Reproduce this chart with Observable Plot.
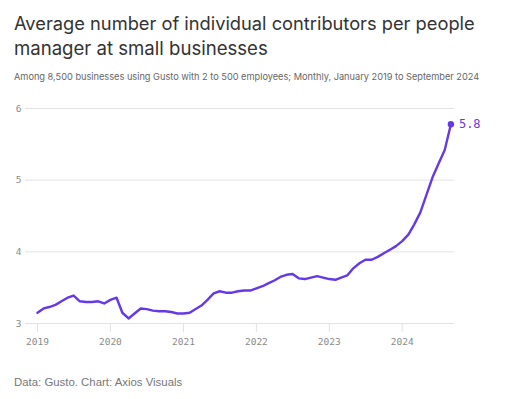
<!DOCTYPE html>
<html><head><meta charset="utf-8">
<script src="https://cdn.jsdelivr.net/npm/d3@7"></script>
<script src="https://cdn.jsdelivr.net/npm/@observablehq/plot@0.6"></script>
<style>
body{margin:0;background:#fff;width:514px;height:399px;position:relative;overflow:hidden}
.t{position:absolute;left:14px;white-space:nowrap;margin:0}
#chart{position:absolute;left:0;top:95px}
</style></head>
<body>
<div class="t" id="title1">Average number of individual contributors per people</div>
<div class="t" id="title2">manager at small businesses</div>
<div class="t" id="subtitle">Among 8,500 businesses using Gusto with 2 to 500 employees; Monthly, January 2019 to September 2024</div>
<div id="chart"></div>
<div class="t" id="caption">Data: Gusto. Chart: Axios Visuals</div>
<script>
// Monthly values, January to December (2024: January to September)
const years = [2019, 2020, 2021, 2022, 2023, 2024];
const ratio2019 = [3.15, 3.21, 3.23, 3.26, 3.31, 3.36, 3.39, 3.31, 3.30, 3.30, 3.31, 3.28];
const ratio2020 = [3.33, 3.36, 3.15, 3.07, 3.14, 3.21, 3.20, 3.18, 3.17, 3.17, 3.16, 3.14];
const ratio2021 = [3.14, 3.15, 3.20, 3.25, 3.33, 3.42, 3.45, 3.43, 3.43, 3.45, 3.46, 3.46];
const ratio2022 = [3.49, 3.52, 3.56, 3.60, 3.65, 3.68, 3.69, 3.63, 3.62, 3.64, 3.66, 3.64];
const ratio2023 = [3.62, 3.61, 3.64, 3.67, 3.77, 3.84, 3.89, 3.89, 3.93, 3.98, 4.03, 4.08];
const ratio2024 = [4.15, 4.24, 4.38, 4.55, 4.79, 5.04, 5.23, 5.42, 5.78];
const yTicks = [3, 4, 5, 6];
const lastLabel = "5.8";

const series = [ratio2019, ratio2020, ratio2021, ratio2022, ratio2023, ratio2024];
const data = [];
years.forEach((yr, i) => series[i].forEach((v, m) => data.push({date: new Date(Date.UTC(yr, m, 1)), value: v})));
const last = data[data.length - 1];

const purple = "#6538e8";

const chart = Plot.plot({
  width: 514,
  height: 263,
  marginTop: 13,
  marginRight: 60,
  marginBottom: 35,
  marginLeft: 25,
  style: {fontFamily: "DejaVu Sans Mono", fontSize: "9.5px", color: "#8a8a8a", background: "#fff"},
  x: {type: "utc", domain: [new Date(Date.UTC(2018, 10, 2)), new Date(Date.UTC(2024, 8, 19))]},
  y: {domain: [3, 6]},
  marks: [
    Plot.gridY(yTicks, {stroke: "#e2e2e2", strokeOpacity: 1, strokeWidth: 1}),
    Plot.axisY(yTicks, {tickSize: 0, tickPadding: 4, label: null, fill: "#8a8a8a", tickFormat: d => String(d)}),
    Plot.axisX({ticks: d3.utcYear.every(1), tickFormat: d3.utcFormat("%Y"), tickSize: 9, stroke: "#e2e2e2", tickPadding: 6, label: null, fill: "#8a8a8a"}),
    Plot.lineY(data, {x: "date", y: "value", stroke: purple, strokeWidth: 2.4, curve: "linear", strokeLinejoin: "round", strokeLinecap: "round"}),
    Plot.dot([last], {x: "date", y: "value", r: 3.2, fill: purple}),
    Plot.text([last], {x: "date", y: "value", text: () => lastLabel, dx: 8, textAnchor: "start", fill: purple, fontSize: 12, fontFamily: "DejaVu Sans Mono"})
  ]
});
document.getElementById("chart").append(chart);

// fit text elements to the reference widths and place baselines
const ctx = document.createElement("canvas").getContext("2d");
function place(id, family, weight, width, baseline, color, ascent, descent) {
  const el = document.getElementById(id);
  ctx.font = `${weight} 20px ${family}`;
  const w = ctx.measureText(el.textContent).width;
  const size = 20 * width / w;
  el.style.fontFamily = family;
  el.style.fontWeight = weight;
  el.style.fontSize = size + "px";
  el.style.lineHeight = size + "px";
  el.style.color = color;
  el.style.top = (baseline - size * (0.5 - (ascent + descent) / 2 + ascent)) + "px";
}
place("title1", "Inter", 400, 461, 29.5, "#333", 0.96875, 0.2421875);
place("title2", "Inter", 400, 254, 55, "#333", 0.96875, 0.2421875);
place("subtitle", "Inter", 400, 466, 80, "#666", 0.96875, 0.2421875);
place("caption", "'Liberation Sans'", 400, 169, 387, "#777", 0.905, 0.212);
</script>
</body></html>
